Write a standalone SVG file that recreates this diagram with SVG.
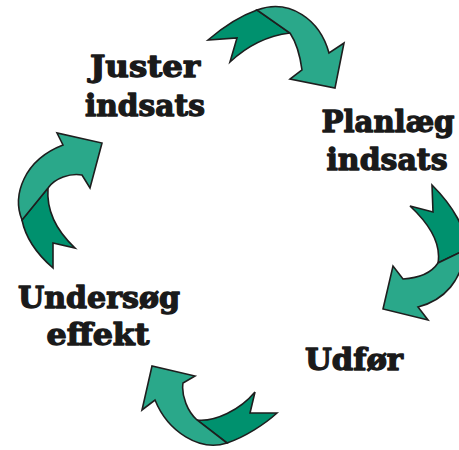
<svg xmlns="http://www.w3.org/2000/svg" width="459" height="450" viewBox="0 0 459 450">
<style>
.d{fill:#00916e;stroke:#1e1e1e;stroke-width:1.6;stroke-linejoin:miter}
.l{fill:#2aa88a;stroke:#1e1e1e;stroke-width:1.6;stroke-linejoin:miter}
.t{font-family:"DejaVu Serif","Liberation Serif",serif;font-weight:bold;font-size:29px;fill:#1a1a1a;stroke:#1a1a1a;stroke-width:1.3;stroke-linejoin:round;text-anchor:middle}
</style>
<rect width="459" height="450" fill="#ffffff"/>
<g id="connectors">
<g id="arrow-top">
<path class="d" d="M208,40 C222,28 240,16 257,10 L290,33 C265,36 245,48 230,62 L237,38 Z"/>
<path class="l" d="M257,10 C290,-2 320,20 329,53 L344,43 L335,88 L290,79 L302,70 C300,55 296,42 290,33 Z"/>
</g>
<g id="arrow-right">
<path class="d" d="M432,185 C452,205 468,230 465,250 L438,263 C442,240 425,220 410,206 L433,212 Z"/>
<path class="l" d="M465,250 C462,280 445,300 418,307 L428,320 L383,309 L393,266 L403,279 C420,278 432,272 438,263 Z"/>
</g>
<g id="arrow-bottom">
<path class="d" d="M255,392 L250,413 L277,413 C265,424 245,437 227,443 L197,420 C215,422 240,410 255,392 Z"/>
<path class="l" d="M227,443 C200,452 168,432 155,400 L142,410 L152,366 L195,376 L183,383 C181,396 188,412 197,420 Z"/>
</g>
<g id="arrow-left">
<path class="d" d="M53,268 L53,243 L75,248 C60,234 46,214 48,188 L22,220 C26,240 38,255 53,268 Z"/>
<path class="l" d="M22,220 C12,195 24,160 63,145 L57,133 L102,143 L90,188 L82,175 C70,173 55,178 48,188 Z"/>
</g>
</g>
<g id="node-juster">
<text class="t" x="145" y="77" textLength="110" lengthAdjust="spacingAndGlyphs">Juster</text>
<text class="t" x="145" y="116" textLength="120" lengthAdjust="spacingAndGlyphs">indsats</text>
</g>
<g id="node-planlaeg">
<text class="t" x="388" y="132" textLength="133" lengthAdjust="spacingAndGlyphs">Planlæg</text>
<text class="t" x="387" y="170" textLength="121" lengthAdjust="spacingAndGlyphs">indsats</text>
</g>
<g id="node-udfor">
<text class="t" x="354" y="370" textLength="98" lengthAdjust="spacingAndGlyphs">Udfør</text>
</g>
<g id="node-undersog">
<text class="t" x="99" y="308" textLength="162" lengthAdjust="spacingAndGlyphs">Undersøg</text>
<text class="t" x="98" y="345" textLength="103" lengthAdjust="spacingAndGlyphs">effekt</text>
</g>
</svg>
